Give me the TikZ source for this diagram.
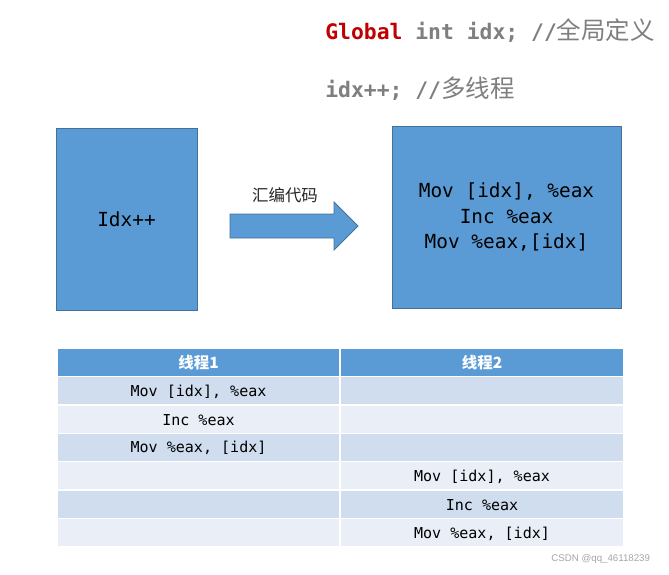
\documentclass[tikz,border=0pt]{standalone}
\usepackage{fontspec}
\usetikzlibrary{positioning}
\newfontfamily\codefont{DejaVu Sans Mono}
\newfontfamily\cjk{Noto Sans CJK SC}
\newfontfamily\markfont{Liberation Sans}
\definecolor{boxblue}{HTML}{5B9BD5}
\definecolor{boxline}{HTML}{41719C}
\definecolor{rowdark}{HTML}{CFDDEE}
\definecolor{rowlight}{HTML}{E9EEF7}
\definecolor{codegray}{HTML}{7F7F7F}
\definecolor{kwred}{HTML}{C00000}

\begin{document}
\begin{tikzpicture}[x=0.025cm,y=-0.025cm,
	blk/.style={draw=boxline,fill=boxblue,line width=0.6pt},
	cell/.style={draw=white,line width=1pt},
	code/.style={font=\codefont\fontsize{13.8}{18}\selectfont,align=center,text=black},
	top/.style={anchor=base west,inner sep=0,font=\codefont\bfseries\fontsize{15.2}{18}\selectfont,text=codegray},
	hdr/.style={font=\cjk\bfseries\fontsize{11}{13}\selectfont,text=white},
	tcode/.style={font=\codefont\fontsize{10.7}{12}\selectfont,text=black}]
\useasboundingbox(0,0)rectangle(669,574);
% source lines
\node[top](decl) at (325,39){\textcolor{kwred}{Global} int idx; //{\cjk\mdseries\fontsize{17.4}{18}\selectfont 全局定义}};
\node[top](incr) at (325,97){idx++; //{\cjk\mdseries\fontsize{17.4}{18}\selectfont 多线程}};

% blocks and arrow
\draw[blk](56,128)rectangle(197,310)node[midway,code](src){Idx++};
\draw[blk](392,126)rectangle(621,308)node[midway,code](asm){Mov [idx], \%eax\\Inc \%eax\\Mov \%eax,[idx]};
\draw[blk](230,214)--(334,214)--(334,202)--(358,226)--(334,250)--(334,238)--(230,238)--cycle;
\node[font=\cjk\fontsize{11.7}{14}\selectfont,text=black!85](asmlbl) at (285,195){汇编代码};

% table
\foreach \r/\fc in {0/boxblue,1/rowdark,2/rowlight,3/rowdark,4/rowlight,5/rowdark,6/rowlight}{
	\draw[cell,fill=\fc](57,348+\r*28.4)rectangle(340,376.4+\r*28.4);
	\draw[cell,fill=\fc](340,348+\r*28.4)rectangle(624,376.4+\r*28.4);
}
\node[hdr](th1) at (198.5,362.2){线程1};
\node[hdr](th2) at (482,362.2){线程2};
\foreach \r/\cx/\t in {1/198.5/{Mov [idx], \%eax},2/198.5/{Inc \%eax},3/198.5/{Mov \%eax, [idx]},
	4/482/{Mov [idx], \%eax},5/482/{Inc \%eax},6/482/{Mov \%eax, [idx]}}
	\node[tcode](c\r) at (\cx,348+15+\r*28.4){\t};

\node[anchor=east,font=\markfont\fontsize{6.9}{8}\selectfont,text=black!35](mark) at (655,559){CSDN @qq\_46118239};
\end{tikzpicture}
\end{document}
